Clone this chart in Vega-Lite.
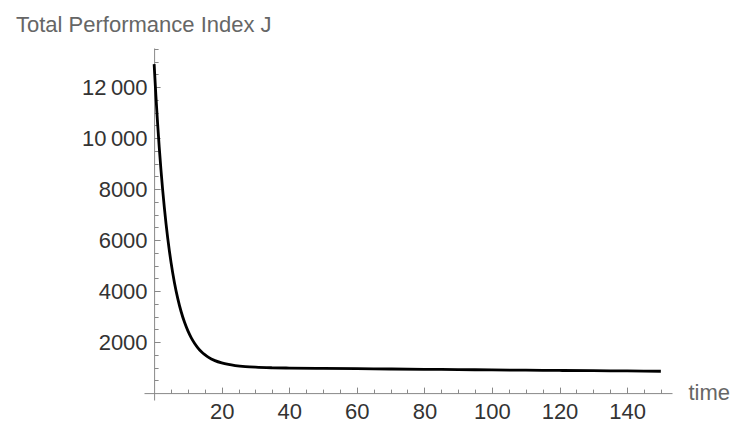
{
  "$schema": "https://vega.github.io/schema/vega-lite/v6.json",
  "width": 528,
  "height": 352,
  "autosize": {"type": "none"},
  "padding": {"left": 144, "top": 48, "right": 64, "bottom": 25},
  "background": "white",
  "config": {"view": {"stroke": null}},
  "title": {
    "text": "Total Performance Index J",
    "anchor": "start",
    "frame": "group",
    "dx": -128,
    "dy": 26,
    "offset": 20,
    "baseline": "alphabetic",
    "font": "Liberation Sans",
    "fontSize": 22,
    "fontWeight": "normal",
    "color": "#666666"
  },
  "data": {
    "values": [
      {"t": 0, "J": 12900},
      {"t": 0.5, "J": 11700},
      {"t": 1, "J": 10624},
      {"t": 1.5, "J": 9656},
      {"t": 2, "J": 8786},
      {"t": 2.5, "J": 8002},
      {"t": 3, "J": 7298},
      {"t": 3.5, "J": 6666},
      {"t": 4, "J": 6097},
      {"t": 4.5, "J": 5585},
      {"t": 5, "J": 5125},
      {"t": 6, "J": 4340},
      {"t": 7, "J": 3705},
      {"t": 8, "J": 3190},
      {"t": 9, "J": 2775},
      {"t": 10, "J": 2439},
      {"t": 11, "J": 2167},
      {"t": 12, "J": 1947},
      {"t": 13, "J": 1768},
      {"t": 14, "J": 1624},
      {"t": 15, "J": 1508},
      {"t": 16, "J": 1413},
      {"t": 18, "J": 1273},
      {"t": 20, "J": 1182},
      {"t": 22, "J": 1122},
      {"t": 24, "J": 1081},
      {"t": 27, "J": 1040},
      {"t": 30, "J": 1015},
      {"t": 35, "J": 993},
      {"t": 40, "J": 982},
      {"t": 50, "J": 970},
      {"t": 60, "J": 958},
      {"t": 70, "J": 946},
      {"t": 80, "J": 934},
      {"t": 90, "J": 922},
      {"t": 100, "J": 910},
      {"t": 110, "J": 899},
      {"t": 120, "J": 888},
      {"t": 130, "J": 878},
      {"t": 140, "J": 868},
      {"t": 150, "J": 858}
    ]
  },
  "layer": [
    {
      "mark": {"type": "line", "opacity": 0},
      "encoding": {
        "x": {
          "field": "t",
          "type": "quantitative",
          "scale": {"domain": [-3, 153.3], "nice": false, "zero": false},
          "axis": {
            "orient": "bottom",
            "offset": -6.9,
            "values": [5,10,15,20,25,30,35,40,45,50,55,60,65,70,75,80,85,90,95,100,105,110,115,120,125,130,135,140,145,150],
            "labels": false,
            "domain": false,
            "grid": false,
            "tickSize": -4,
            "tickColor": "#888888",
            "title": null
          }
        },
        "y": {
          "field": "J",
          "type": "quantitative",
          "scale": {"domain": [-270, 13530], "nice": false, "zero": false},
          "axis": {
            "orient": "left",
            "offset": -10.1,
            "values": [500,1000,1500,2000,2500,3000,3500,4000,4500,5000,5500,6000,6500,7000,7500,8000,8500,9000,9500,10000,10500,11000,11500,12000,12500,13000,13500],
            "labels": false,
            "domain": false,
            "grid": false,
            "tickSize": -4,
            "tickColor": "#888888",
            "title": null
          }
        }
      }
    },
    {
      "mark": {"type": "line", "color": "black", "strokeWidth": 2.8, "interpolate": "monotone"},
      "encoding": {
        "x": {
          "field": "t",
          "type": "quantitative",
          "scale": {"domain": [-3, 153.3], "nice": false, "zero": false},
          "axis": {
            "orient": "bottom",
            "offset": -6.9,
            "values": [20, 40, 60, 80, 100, 120, 140],
            "grid": false,
            "domainColor": "#888888",
            "tickColor": "#888888",
            "tickSize": -6,
            "labelPadding": 14,
            "labelFont": "Liberation Sans",
            "labelFontSize": 22,
            "labelColor": "#333333",
            "title": "time",
            "titleAngle": 0,
            "titleAlign": "left",
            "titleBaseline": "middle",
            "titleX": 544,
            "titleY": -1,
            "titleFont": "Liberation Sans",
            "titleFontSize": 22,
            "titleFontWeight": "normal",
            "titleColor": "#666666"
          }
        },
        "y": {
          "field": "J",
          "type": "quantitative",
          "scale": {"domain": [-270, 13530], "nice": false, "zero": false},
          "axis": {
            "orient": "left",
            "offset": -10.1,
            "values": [2000, 4000, 6000, 8000, 10000, 12000],
            "labelExpr": "datum.value >= 10000 ? replace(format(datum.value, ','), ',', '\u2009') : format(datum.value, 'd')",
            "grid": false,
            "domainColor": "#888888",
            "tickColor": "#888888",
            "tickSize": -6,
            "labelPadding": 13,
            "labelFont": "Liberation Sans",
            "labelFontSize": 22,
            "labelColor": "#333333",
            "title": null
          }
        }
      }
    }
  ],
  "resolve": {"axis": {"x": "independent", "y": "independent"}}
}
